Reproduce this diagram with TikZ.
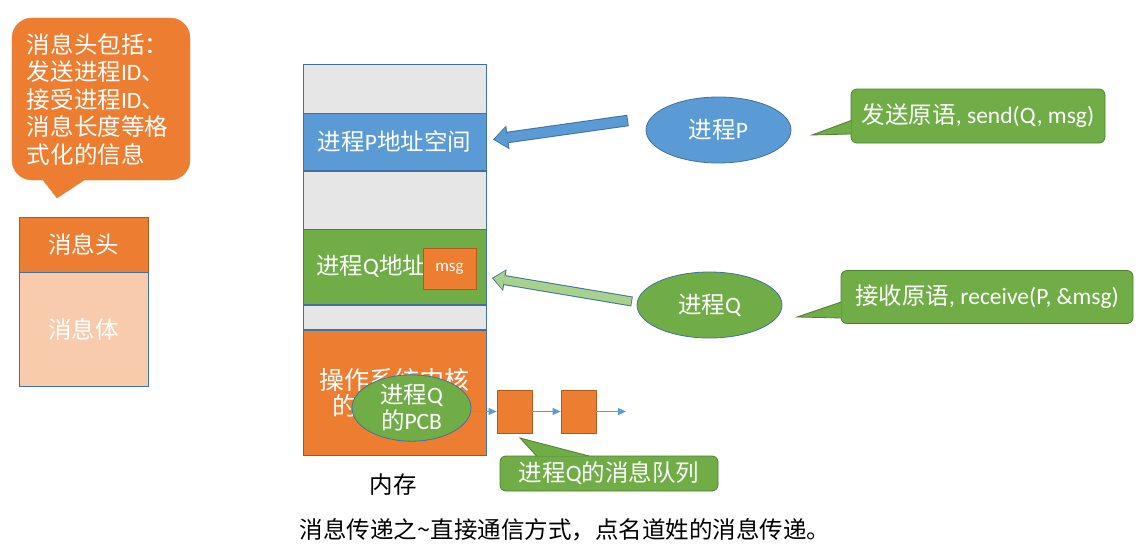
\documentclass[tikz,border=0pt]{standalone}
\usepackage{fontspec}
\setmainfont{Noto Sans CJK SC}
\newfontfamily\latfont{Carlito}
\newcommand\latin[1]{{\latfont #1}}
\usepackage{tikz}
\usetikzlibrary{calc,arrows.meta,shapes.geometric,positioning}

\definecolor{msorange}{HTML}{ED7D31}
\definecolor{orangeD}{HTML}{AE5A21}
\definecolor{peach}{HTML}{F8CBAD}
\definecolor{msblue}{HTML}{5B9BD5}
\definecolor{blueD}{HTML}{41719C}
\definecolor{msgreen}{HTML}{70AD47}
\definecolor{greenD}{HTML}{507E32}
\definecolor{lightgreen}{HTML}{A9D18E}
\definecolor{memgray}{HTML}{E7E6E6}

\tikzset{
  txt/.style={font=\fontsize{23.5}{27.5}\selectfont, text=white},
  blacktxt/.style={font=\fontsize{23.5}{27}\selectfont, text=black, inner sep=0pt},
  memblk/.style={draw=blueD, line width=0.8pt, minimum width=183pt, anchor=north, inner sep=0pt, txt},
  oval/.style={ellipse, draw=blueD, line width=0.8pt, inner sep=0pt, txt},
  callg/.style={rectangle, rounded corners=6pt, draw=greenD, fill=msgreen, line width=0.8pt, inner sep=0pt, txt},
  tailg/.style={fill=msgreen, draw=greenD, line width=0.8pt, line join=miter},
  qbox/.style={draw=orangeD, fill=msorange, line width=0.8pt, minimum width=35pt, minimum height=43pt, inner sep=0pt},
  qarr/.style={draw=msblue, line width=0.9pt, -{Triangle[length=8pt,width=7pt]}},
  blkout/.style={line width=11.5pt, -{Triangle[length=15pt,width=24pt,line width=0pt]}},
  blkin/.style={line width=9.5pt, -{Triangle[length=12.5pt,width=20.5pt,line width=0pt]}, shorten >=1.5pt, shorten <=0.8pt}
}

\begin{document}
\begin{tikzpicture}[x=1pt,y=-1pt]
  \useasboundingbox (0,0) rectangle (1145,551);

  % message format on the left
  \node[txt, rectangle, rounded corners=20pt, draw=msorange, fill=msorange,
        minimum height=162pt, text width=148pt, inner xsep=15pt, align=left]
        (hdrNote) at (101,99)
        {消息头包括：\\发送进程\latin{ID}、\\接受进程\latin{ID}、\\消息长度等格\\式化的信息};
  \coordinate (hdrTip) at (57,198);
  \filldraw[fill=msorange, draw=msorange] ($(hdrNote.south west)+(31,-0.5)$) -- (hdrTip) -- ($(hdrNote.south west)+(73,-0.5)$);
  \node[txt, draw=orangeD, fill=msorange, line width=0.8pt, minimum width=129pt, minimum height=55pt, inner sep=0pt] (msgHead) at (83.5,244.5) {消息头};
  \node[txt, draw=blueD, fill=peach, line width=0.8pt, minimum width=129pt, minimum height=114pt, inner sep=0pt, anchor=north] (msgBody) at (msgHead.south) {消息体};

  % memory
  \node[memblk, fill=memgray, minimum height=48.5pt] (memTop) at (394.5,64) {};
  \node[memblk, fill=msblue, minimum height=56.5pt] (pSpace) at (memTop.south) {进程\latin{P}地址空间};
  \node[memblk, fill=memgray, minimum height=58pt] (memGap1) at (pSpace.south) {};
  \node[memblk, fill=msgreen, minimum height=75pt] (qSpace) at (memGap1.south) {};
  \node[memblk, fill=memgray, minimum height=24pt] (memGap2) at (qSpace.south) {};
  \node[memblk, fill=msorange, minimum height=125pt, align=center, font=\fontsize{25}{25.5}\selectfont] (kernel) at (memGap2.south) {操作系统内核\\的地址空间};
  \node[txt, anchor=west, inner sep=0pt] (qLbl) at (316,266.5) {进程\latin{Q}地址};
  \node[draw=orangeD, fill=msorange, line width=0.8pt, minimum width=53pt, minimum height=41pt, inner sep=0pt,
        text=white, font=\latfont\fontsize{17}{20}\selectfont] (msgBox) at (449.5,269) {msg};
  \node[oval, fill=msgreen, minimum width=119pt, minimum height=66pt, align=center, font=\fontsize{23.5}{26}\selectfont] (pcb) at (411.5,408) {进程\latin{Q}\\的\latin{PCB}};
  \node[blacktxt] (memLbl) at (393,485) {内存};

  % message queue
  \node[qbox] (q1) at (514.5,411.5) {};
  \node[qbox] (q2) at (578.5,411.5) {};
  \coordinate (qEnd) at (626,411.5);
  \draw[qarr] (pcb.east |- q1.west) -- (q1.west);
  \draw[qarr] (q1.east) -- (q2.west);
  \draw[qarr] (q2.east) -- (qEnd);
  \node[callg, minimum width=218pt, minimum height=35pt] (queueNote) at (609,473.5) {进程\latin{Q}的消息队列};
  \coordinate (queueTip) at (520,438);
  \filldraw[tailg] ($(queueNote.north west)+(37,0.5)$) -- (queueTip) -- ($(queueNote.north west)+(90,0.5)$);

  % processes
  \node[oval, fill=msblue, minimum width=145pt, minimum height=66pt] (procP) at (718.5,130) {进程\latin{P}};
  \node[oval, fill=msgreen, minimum width=145pt, minimum height=66pt] (procQ) at (709.5,305) {进程\latin{Q}};

  \node[callg, minimum width=254pt, minimum height=54pt] (sendNote) at (978,116) {发送原语\latin{, send(Q, msg)}};
  \coordinate (sendTip) at (812,135);
  \filldraw[tailg] ($(sendNote.west)+(0.5,4.5)$) -- (sendTip) -- ($(sendNote.west)+(0.5,18)$);
  \node[callg, minimum width=292pt, minimum height=53pt] (recvNote) at (987,297) {接收原语\latin{, receive(P, \&msg)}};
  \coordinate (recvTip) at (797,317);
  \filldraw[tailg] ($(recvNote.west)+(0.5,5)$) -- (recvTip) -- ($(recvNote.west)+(0.5,21)$);

  % block arrows
  \coordinate (sendTail) at (628,120.5);
  \coordinate (sendHead) at (493,139.5);
  \draw[blkout, blueD] (sendTail) -- (sendHead);
  \draw[blkin, msblue] (sendTail) -- (sendHead);
  \coordinate (recvTail) at (632,301.5);
  \coordinate (recvHead) at (492,278);
  \draw[blkout, blueD, line width=10pt, -{Triangle[length=13pt,width=22pt,line width=0pt]}] (recvTail) -- (recvHead);
  \draw[blkin, lightgreen, line width=8pt, -{Triangle[length=10.5pt,width=18.5pt,line width=0pt]}] (recvTail) -- (recvHead);

  \node[blacktxt] (caption) at (565,530) {消息传递之\textasciitilde{}直接通信方式，点名道姓的消息传递。};
\end{tikzpicture}
\end{document}
